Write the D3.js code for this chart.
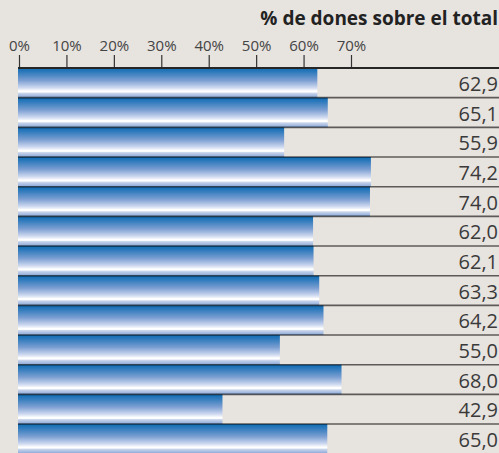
<!DOCTYPE html>
<html>
<head>
<meta charset="utf-8">
<script src="https://cdn.jsdelivr.net/npm/d3@7"></script>
<style>
  html, body { margin: 0; padding: 0; background: #e7e3df; overflow: hidden; }
  svg { display: block; font-family: "Open Sans", sans-serif; }
</style>
</head>
<body>
<div id="container"></div>
<script>
/* CONSTANTS AND GLOBALS */
const width = 499,
  height = 453,
  margin = { top: 68, left: 18, right: 0 };

// DATA
const title = "% de dones sobre el total";
const values = [62.9, 65.1, 55.9, 74.2, 74.0, 62.0, 62.1, 63.3, 64.2, 55.0, 68.0, 42.9, 65.0];
const tickValues = [0, 10, 20, 30, 40, 50, 60, 70];

// comma as decimal mark
const locale = d3.formatLocale({ decimal: ",", thousands: ".", grouping: [3], currency: ["", "€"] });
const fmt = locale.format(".1f");

const svg = d3.select("#container")
  .append("svg")
  .attr("width", width)
  .attr("height", height);

// SCALES
const x = d3.scaleLinear()
  .domain([0, 70])
  .range([19, 351]);

const rowH = 29.67;
const y = d3.scaleBand()
  .domain(d3.range(values.length))
  .range([margin.top, margin.top + rowH * values.length])
  .padding(0);

// GRADIENT for the glossy bars
const defs = svg.append("defs");
const grad = defs.append("linearGradient")
  .attr("id", "barGrad")
  .attr("x1", 0).attr("y1", 0).attr("x2", 0).attr("y2", 1);
[
  [0, "#0f6cb3"],
  [0.12, "#2a78bb"],
  [0.42, "#7c9fd2"],
  [0.66, "#cdd8ef"],
  [0.75, "#f2f5fb"],
  [0.77, "#ffffff"],
  [0.81, "#ffffff"],
  [0.85, "#c9d5ec"],
  [1, "#87a6d6"]
].forEach(([o, c]) => grad.append("stop").attr("offset", o).attr("stop-color", c));

// BARS
svg.selectAll("rect.bar")
  .data(values)
  .join("rect")
  .attr("class", "bar")
  .attr("x", margin.left)
  .attr("y", (d, i) => y(i))
  .attr("width", d => x(d) - margin.left)
  .attr("height", y.bandwidth())
  .attr("fill", "url(#barGrad)");

// row separators
svg.selectAll("line.sep")
  .data(values.slice(1))
  .join("line")
  .attr("class", "sep")
  .attr("x1", margin.left)
  .attr("x2", width)
  .attr("y1", (d, i) => y(i + 1))
  .attr("y2", (d, i) => y(i + 1))
  .attr("stroke", "#000")
  .attr("stroke-opacity", 0.6)
  .attr("stroke-width", 1.6);

// top line
svg.append("line")
  .attr("x1", margin.left)
  .attr("x2", width)
  .attr("y1", margin.top)
  .attr("y2", margin.top)
  .attr("stroke", "#262626")
  .attr("stroke-width", 2);

// VALUE LABELS
svg.selectAll("text.val")
  .data(values)
  .join("text")
  .attr("class", "val")
  .attr("x", 498)
  .attr("y", (d, i) => y(i) + 23)
  .attr("text-anchor", "end")
  .attr("fill", "#3a3a3a")
  .attr("font-size", 20)
  .text(d => fmt(d));

// AXIS
const xAxis = d3.axisTop(x)
  .tickValues(tickValues)
  .tickSize(12)
  .tickPadding(4)
  .tickFormat(d => d + "%");

const axisG = svg.append("g")
  .attr("transform", `translate(0, ${margin.top - 1})`)
  .call(xAxis);
axisG.select(".domain").remove();
axisG.selectAll(".tick line").attr("stroke", "#333").attr("stroke-width", 1.2);
axisG.selectAll(".tick text")
  .attr("fill", "#444")
  .attr("font-size", 15)
  .attr("font-family", "'Open Sans', sans-serif");

// TITLE
svg.append("text")
  .attr("x", 498)
  .attr("y", 25)
  .attr("text-anchor", "end")
  .attr("font-weight", "bold")
  .attr("font-size", 19)
  .attr("fill", "#222")
  .text(title);
</script>
</body>
</html>
